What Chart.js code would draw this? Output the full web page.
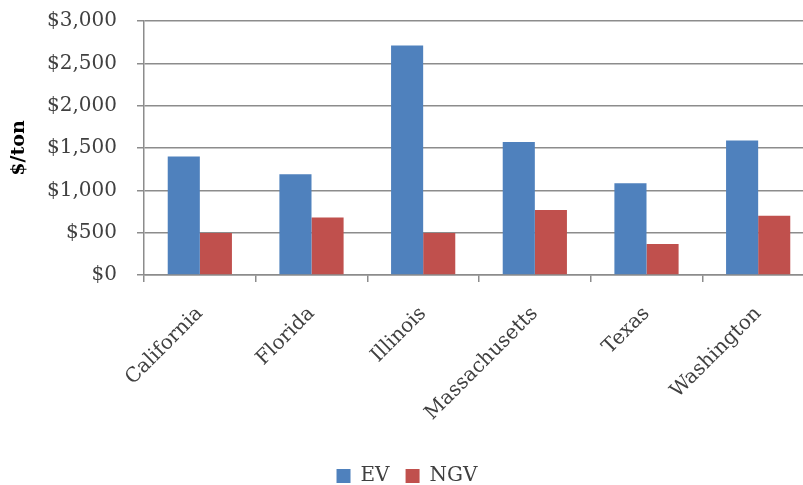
<!DOCTYPE html>
<html>
<head>
<meta charset="utf-8">
<script src="https://cdn.jsdelivr.net/npm/chart.js@4/dist/chart.umd.min.js"></script>
<style>
  html, body { margin: 0; padding: 0; background: #fff; overflow: hidden; }
  #wrap { position: relative; width: 814px; height: 485px; }
</style>
</head>
<body>
<div id="wrap"><canvas id="chart"></canvas></div>
<script>
const states = ["California", "Florida", "Illinois", "Massachusetts", "Texas", "Washington"];
const evValues = [1400, 1190, 2710, 1570, 1085, 1590];
const ngvValues = [495, 680, 495, 768, 365, 700];
const yTicks = [0, 500, 1000, 1500, 2000, 2500, 3000];

const serif = "'DejaVu Serif', serif";
const textColor = "#404040";
const gridColor = "#8c8c8c";

const config = {
  type: "bar",
  data: {
    labels: states,
    datasets: [
      {
        label: "EV",
        data: evValues,
        backgroundColor: "#4f81bd",
        categoryPercentage: 0.575,
        barPercentage: 1.0,
      },
      {
        label: "NGV",
        data: ngvValues,
        backgroundColor: "#c0504d",
        categoryPercentage: 0.575,
        barPercentage: 1.0,
      },
    ],
  },
  options: {
    responsive: true,
    maintainAspectRatio: false,
    animation: false,
    layout: {
      // legend sits a little lower than the default box would put it
      padding: { top: 21, left: 0, right: 0, bottom: -11 },
    },
    plugins: {
      tooltip: { enabled: false },
      legend: {
        position: "bottom",
        labels: {
          font: { family: serif, size: 20 },
          color: textColor,
          boxWidth: 14,
          boxHeight: 14,
          padding: 16,
        },
      },
    },
    scales: {
      x: {
        grid: {
          offset: true,
          drawOnChartArea: false,
          drawTicks: true,
          tickLength: 7,
          color: gridColor,
          lineWidth: 1.5,
        },
        border: { color: gridColor, width: 1.5 },
        ticks: {
          minRotation: 45,
          maxRotation: 45,
          padding: 20,
          color: textColor,
          font: { family: serif, size: 20 },
        },
        afterFit(scale) {
          scale.height = 175;
        },
      },
      y: {
        min: 0,
        max: 3000,
        afterBuildTicks(scale) {
          scale.ticks = yTicks.map((v) => ({ value: v }));
        },
        grid: {
          color: gridColor,
          lineWidth: 1.5,
          tickLength: 7,
        },
        border: { color: gridColor, width: 1.5 },
        ticks: {
          padding: 20,
          color: textColor,
          font: { family: serif, size: 20 },
          callback: (v) => "$" + v.toLocaleString("en-US"),
        },
        title: {
          display: true,
          text: "$/ton",
          color: "#000",
          font: { family: serif, size: 19, weight: "bold" },
          padding: { top: 8, bottom: 0 },
        },
        afterFit(scale) {
          scale.width = 144;
          // tick padding would otherwise push the plot down
          scale.paddingTop = 0;
          scale.paddingBottom = 0;
        },
      },
    },
  },
};

new Chart(document.getElementById("chart"), config);
</script>
</body>
</html>
